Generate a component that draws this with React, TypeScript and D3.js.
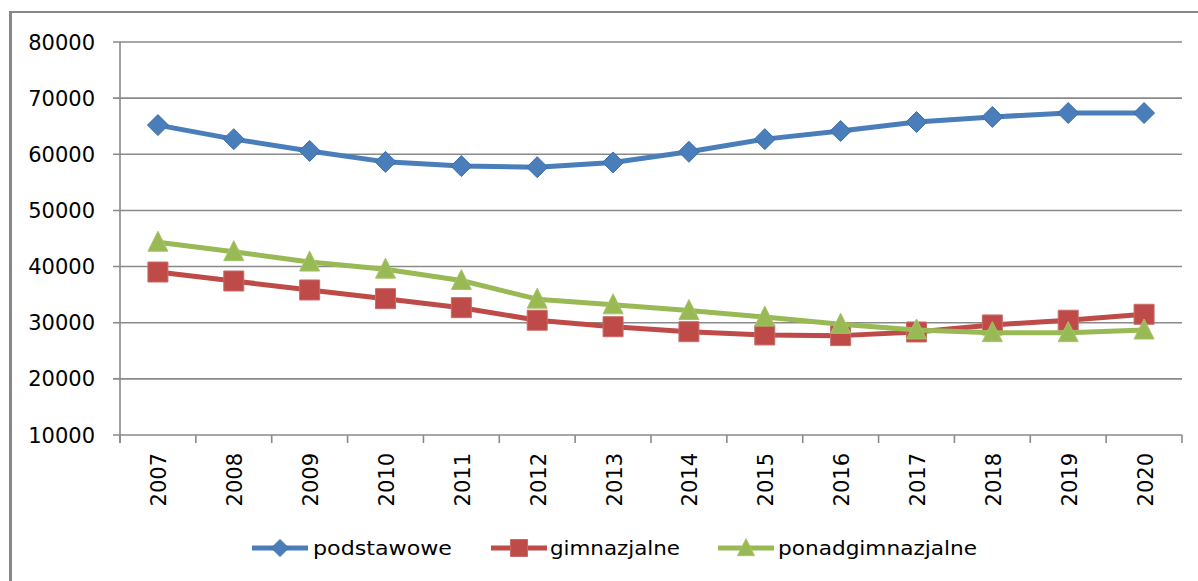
import React from "react";
import * as d3 from "d3";

const years = ["2007","2008","2009","2010","2011","2012","2013","2014","2015","2016","2017","2018","2019","2020"];
const podstawowe = [65200, 62700, 60600, 58650, 57900, 57700, 58550, 60450, 62700, 64150, 65750, 66650, 67350, 67350];
const gimnazjalne = [39030, 37430, 35830, 34280, 32680, 30440, 29290, 28400, 27820, 27700, 28350, 29600, 30440, 31500];
const ponadgimnazjalne = [44330, 42650, 40800, 39540, 37510, 34200, 33190, 32170, 31000, 29720, 28710, 28230, 28230, 28700];
const yTicks = [10000, 20000, 30000, 40000, 50000, 60000, 70000, 80000];

const seriesNames = ["podstawowe", "gimnazjalne", "ponadgimnazjalne"];
const seriesColors = ["#4a7ebb", "#be4b48", "#98b954"];
const seriesStroke = ["#3d6fa8", "#c96b69", "#a6c46a"];
const seriesShapes = ["diamond", "square", "triangle"];

const W = 1198, H = 581;
const plot = { left: 120, right: 1182, top: 42, bottom: 435 };

function markerPath(shape: string, cx: number, cy: number, s: number): string {
  const h = s / 2;
  if (shape === "diamond") {
    return `M${cx},${cy - h}L${cx + h},${cy}L${cx},${cy + h}L${cx - h},${cy}Z`;
  }
  if (shape === "square") {
    return `M${cx - h},${cy - h}H${cx + h}V${cy + h}H${cx - h}Z`;
  }
  // triangle, centroid-ish at cy
  return `M${cx},${cy - h * 1.1}L${cx + h},${cy + h * 0.9}L${cx - h},${cy + h * 0.9}Z`;
}

export default function App() {
  const x = d3.scaleBand<string>().domain(years).range([plot.left, plot.right]).padding(0);
  const y = d3.scaleLinear().domain([10000, 80000]).range([plot.bottom, plot.top]);
  const cx = (yr: string) => (x(yr) as number) + x.bandwidth() / 2;
  const data = [podstawowe, gimnazjalne, ponadgimnazjalne];
  const line = d3
    .line<number>()
    .x((_, i) => cx(years[i]))
    .y((v) => y(v));

  const boundaries = years.map((yr) => x(yr) as number).concat([plot.right]);

  const legendItems = [
    { lineX: 252, textX: 313, textLen: 139 },
    { lineX: 491, textX: 550, textLen: 130 },
    { lineX: 718, textX: 778, textLen: 199 },
  ];
  const legendY = 548;

  return (
    <svg
      width={W}
      height={H}
      style={{ position: "absolute", left: 0, top: 0, background: "#fff" }}
      fontFamily="DejaVu Sans"
    >
      <rect x={0} y={0} width={W} height={H} fill="#fff" />
      {/* outer frame */}
      <line x1={10.5} y1={12} x2={10.5} y2={H} stroke="#878787" strokeWidth={3} />
      <line x1={9} y1={12} x2={W} y2={12} stroke="#878787" strokeWidth={2} />

      {/* gridlines */}
      {yTicks.map((t) => (
        <line
          key={"g" + t}
          x1={plot.left - 7}
          x2={plot.right}
          y1={y(t)}
          y2={y(t)}
          stroke="#8a8a8a"
          strokeWidth={1.6}
        />
      ))}
      {/* y axis line */}
      <line x1={plot.left} x2={plot.left} y1={plot.top} y2={plot.bottom + 8} stroke="#8a8a8a" strokeWidth={1.6} />
      {/* x ticks */}
      {boundaries.map((bx, i) => (
        <line key={"xt" + i} x1={bx} x2={bx} y1={plot.bottom} y2={plot.bottom + 8} stroke="#8a8a8a" strokeWidth={1.6} />
      ))}

      {/* y labels */}
      {yTicks.map((t) => (
        <text key={"yl" + t} x={95} y={y(t)} dy="0.36em" textAnchor="end" fontSize={21} fill="#000">
          {t}
        </text>
      ))}
      {/* x labels */}
      {years.map((yr) => (
        <text
          key={"xl" + yr}
          transform={`translate(${cx(yr) + 1},453) rotate(-90)`}
          dy="0.36em"
          textAnchor="end"
          fontSize={21}
          fill="#000"
        >
          {yr}
        </text>
      ))}

      {/* series */}
      {data.map((vals, si) => (
        <g key={"s" + si}>
          <path d={line(vals) || ""} fill="none" stroke={seriesColors[si]} strokeWidth={5} strokeLinejoin="round" />
          {vals.map((v, i) => (
            <path
              key={i}
              d={markerPath(seriesShapes[si], cx(years[i]), y(v), si === 0 ? 21 : 20)}
              fill={seriesColors[si]}
              stroke={seriesStroke[si]}
              strokeWidth={1}
            />
          ))}
        </g>
      ))}

      {/* legend */}
      {legendItems.map((it, si) => (
        <g key={"lg" + si}>
          <line x1={it.lineX} x2={it.lineX + 56} y1={legendY} y2={legendY} stroke={seriesColors[si]} strokeWidth={5} />
          <path
            d={markerPath(seriesShapes[si], it.lineX + 28, legendY, 17)}
            fill={seriesColors[si]}
            stroke={seriesStroke[si]}
            strokeWidth={1}
          />
          <text
            x={it.textX}
            y={legendY + 7}
            fontSize={20}
            fill="#000"
            textLength={it.textLen}
            lengthAdjust="spacingAndGlyphs"
          >
            {seriesNames[si]}
          </text>
        </g>
      ))}
    </svg>
  );
}
